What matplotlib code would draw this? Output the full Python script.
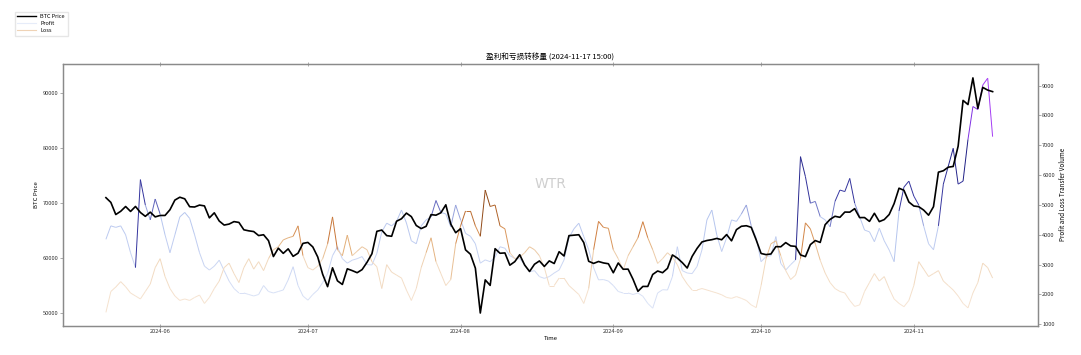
import numpy as np
import pandas as pd
import matplotlib
matplotlib.use("Agg")
import matplotlib.pyplot as plt
import matplotlib.dates as mdates
from matplotlib.collections import LineCollection
from matplotlib.colors import LinearSegmentedColormap, Normalize
from matplotlib.lines import Line2D

plt.rcParams['font.family'] = ['Noto Sans CJK SC', 'DejaVu Sans']

# daily values, 2024-05-21 -> 2024-11-17
dates = pd.date_range("2024-05-21", periods=181, freq="D")

btc_price = [
    # May 21-31
    71000, 70140, 67930, 68520, 69390, 68490, 69400, 68300, 67600, 68360, 67500,
    # June
    67760, 67760, 68800, 70560, 71080, 70790, 69350, 69300, 69650, 69500,
    67320, 68240, 66750, 66010, 66190, 66640, 66490, 65150, 64960, 64830,
    64100, 64250, 63180, 60280, 61800, 60860, 61680, 60320, 60890, 62680,
    # July
    62850, 62030, 60200, 57050, 54800, 58230, 55860, 55200, 58050, 57720,
    57340, 57900, 59230, 60790, 64870, 65100, 64090, 63970, 66710, 67160,
    68190, 67550, 65930, 65370, 65780, 67910, 67810, 68250, 69700, 66190, 64620,
    # August
    65350, 61500, 60700, 58160, 50000, 56030, 55030, 61710, 60880, 60940,
    58710, 59350, 60610, 58740, 57560, 58880, 59480, 58480, 59490, 59010,
    61160, 60380, 64090, 64180, 64250, 62830, 59420, 59030, 59380, 59120, 58970,
    # September
    57330, 59110, 57970, 57990, 56150, 53950, 54840, 54840, 57020, 57650,
    57340, 58130, 60570, 60000, 59180, 58190, 60310, 61760, 62940, 63200,
    63350, 63580, 63340, 64280, 63140, 65180, 65790, 65890, 65600, 63330,
    # October
    60840, 60630, 60750, 62090, 62060, 62820, 62220, 62130, 60580, 60270,
    62450, 63190, 62850, 66080, 67040, 67610, 67420, 68380, 68360, 69000,
    67370, 67380, 66680, 68160, 66640, 67010, 67930, 69910, 72720, 72340, 70210,
    # November 1-17
    69480, 69360, 68740, 67810, 69360, 75640, 75900, 76550, 76680, 80370,
    88700, 87950, 92800, 87250, 91070, 90580, 90300,
]

profit = [
    3850, 4300, 4250, 4300, 4000, 3400, 2900, 5850, 5000, 4500, 5200,
    4700, 4000, 3400, 4000, 4600, 4750, 4550, 4000, 3400, 2950,
    2820, 2950, 3150, 2800, 2450, 2200, 2050, 2050, 2000, 1950,
    2000, 2300, 2100, 2050, 2100, 2150, 2490, 2930, 2300, 1950,
    1810, 2000, 2150, 2400, 2700, 3300, 3600, 3200, 3050, 3150,
    3200, 3270, 3000, 2990, 3380, 4100, 4390, 4300, 4450, 4830,
    4400, 3800, 3700, 4300, 4500, 4600, 5150, 4750, 4700, 4270, 5000,
    4500, 4050, 3950, 3700, 3050, 3160, 3100, 3250, 3600, 3550,
    3300, 3210, 3200, 3000, 2760, 2800, 2600, 2540, 2600, 2720,
    2820, 3160, 3900, 4200, 4390, 3940, 3500, 2900, 2490, 2500, 2450,
    2300, 2100, 2050, 2050, 2000, 2050, 1940, 1700, 1540, 2050,
    2160, 2150, 2600, 3600, 2800, 2720, 2700, 2940, 3500, 4500,
    4830, 4000, 3440, 3900, 4500, 4450, 4700, 5000, 4300, 3900,
    3100, 3270, 3300, 3940, 3040, 2820, 3000, 3160, 6620, 5950,
    5060, 5120, 4610, 4500, 4270, 5120, 5500, 5450, 5890, 5060,
    4610, 4160, 4100, 3770, 4220, 3800, 3490, 3100, 4800, 5600, 5800,
    5300, 5000, 4300, 3700, 3500, 4300, 5700, 6300, 6900, 5700,
    5800, 7200, 8300, 8200, 9020, 9250, 7290,
]

loss = [
    1400, 2100, 2250, 2430, 2260, 2050, 1950, 1850, 2100, 2350, 2900,
    3200, 2600, 2200, 1950, 1800, 1850, 1800, 1900, 1980, 1700,
    1900, 2200, 2450, 2900, 3050, 2700, 2400, 2900, 3200, 2850,
    3100, 2800, 3200, 3500, 3600, 3830, 3900, 3950, 4300, 3300,
    2900, 2820, 2950, 3200, 3700, 4600, 3500, 3300, 3990, 3300,
    3450, 3600, 3500, 3100, 2930, 2200, 3000, 2750, 2650, 2550,
    2150, 1800, 2200, 2900, 3400, 3900, 3100, 2700, 2300, 2500, 3700,
    4300, 4800, 4800, 4300, 3950, 5500, 4950, 5000, 4300, 4200,
    3400, 3200, 3250, 3400, 3600, 3500, 3300, 2900, 2300, 2300,
    2550, 2550, 2300, 2150, 2000, 1700, 2200, 3500, 4450, 4250, 4220,
    3500, 3200, 2820, 3300, 3600, 3900, 4440, 3900, 3500, 3040,
    3200, 3400, 3250, 3000, 2600, 2350, 2150, 2150, 2200, 2150,
    2100, 2050, 1990, 1900, 1870, 1930, 1870, 1800, 1650, 1560,
    2300, 3200, 3700, 3800, 3300, 2800, 2500, 2650, 3200, 4400,
    4200, 3700, 3150, 2720, 2400, 2200, 2100, 2050, 1800, 1600,
    1650, 2100, 2400, 2700, 2450, 2600, 2200, 1850, 1700, 1590, 1800,
    2300, 3100, 2850, 2600, 2700, 2800, 2450, 2300, 2150, 1950,
    1700, 1550, 2050, 2400, 3050, 2900, 2550,
]

profit_cmap = LinearSegmentedColormap.from_list("profit", [
    (0.0, "#e6ecf9"), (0.47, "#b4c4ee"), (0.52, "#3b3ba6"),
    (0.75, "#1f1f85"), (0.87, "#7b2ee0"), (1.0, "#a53cf5")])
loss_cmap = LinearSegmentedColormap.from_list("loss", [
    (0.0, "#f9ebde"), (0.5, "#f1d8bd"), (0.65, "#e2ae78"),
    (0.76, "#cf7c3c"), (1.0, "#8b4513")])


def colored_line(ax, x, y, cmap, norm, lw):
    pts = np.column_stack([x, y])
    segs = np.stack([pts[:-1], pts[1:]], axis=1)
    lc = LineCollection(segs, cmap=cmap, norm=norm, linewidth=lw)
    lc.set_array(np.maximum(y[:-1], y[1:]))
    ax.add_collection(lc)
    return lc


fig = plt.figure(figsize=(10.81, 3.55), dpi=100)
ax = fig.add_axes([0.0583, 0.0825, 0.9019, 0.7372])
ax2 = ax.twinx()

xnum = mdates.date2num(dates)
colored_line(ax2, xnum, np.array(profit, float), profit_cmap, Normalize(1000, 9300), 0.7)
colored_line(ax2, xnum, np.array(loss, float), loss_cmap, Normalize(1000, 5600), 0.7)

ax.plot(dates, btc_price, color="black", lw=1.2)
ax.set_zorder(ax2.get_zorder() + 1)
ax.patch.set_visible(False)

ax.set_xlim(pd.Timestamp("2024-05-12 07:00"), pd.Timestamp("2024-11-26 05:00"))
ax.set_ylim(47690, 95330)
ax2.set_ylim(953, 9726)
ax.set_yticks([50000, 60000, 70000, 80000, 90000])
ax2.set_yticks(range(1000, 10000, 1000))
ax.xaxis.set_major_locator(mdates.MonthLocator())
ax.xaxis.set_major_formatter(mdates.DateFormatter("%Y-%m"))

for a in (ax, ax2):
    for s in a.spines.values():
        s.set_color("#8a8a8a")
        s.set_linewidth(0.9)
    a.tick_params(labelsize=4.1, colors="#8a8a8a", labelcolor="#333333",
                  length=2, width=0.5, pad=1)
ax.tick_params(axis="x", direction="inout", top=True, length=2.5)

ax.set_xlabel("Time", fontsize=4.3, labelpad=1.5)
ax.set_ylabel("BTC Price", fontsize=4.3, labelpad=3)
ax2.set_ylabel("Profit and Loss Transfer Volume", fontsize=4.5, labelpad=3)
ax.set_title("盈利和亏损转移量 (2024-11-17 15:00)", fontsize=5.5, pad=3)

ax.text(0.5, 0.54, "WTR", transform=ax.transAxes, fontsize=10,
        color="#cfcfcf", ha="center", va="center", family="DejaVu Sans")

handles = [Line2D([], [], color="black", lw=1.0),
           Line2D([], [], color="#e6ecf9", lw=0.8),
           Line2D([], [], color="#efd3b6", lw=0.8)]
fig.legend(handles, ["BTC Price", "Profit", "Loss"], loc="upper left",
           bbox_to_anchor=(0.011, 0.975), fontsize=4.0, frameon=True,
           edgecolor="#e0e0e0", fancybox=False, handlelength=3.3,
           borderpad=0.5, labelspacing=0.35)

fig.savefig("out.png", dpi=100)
